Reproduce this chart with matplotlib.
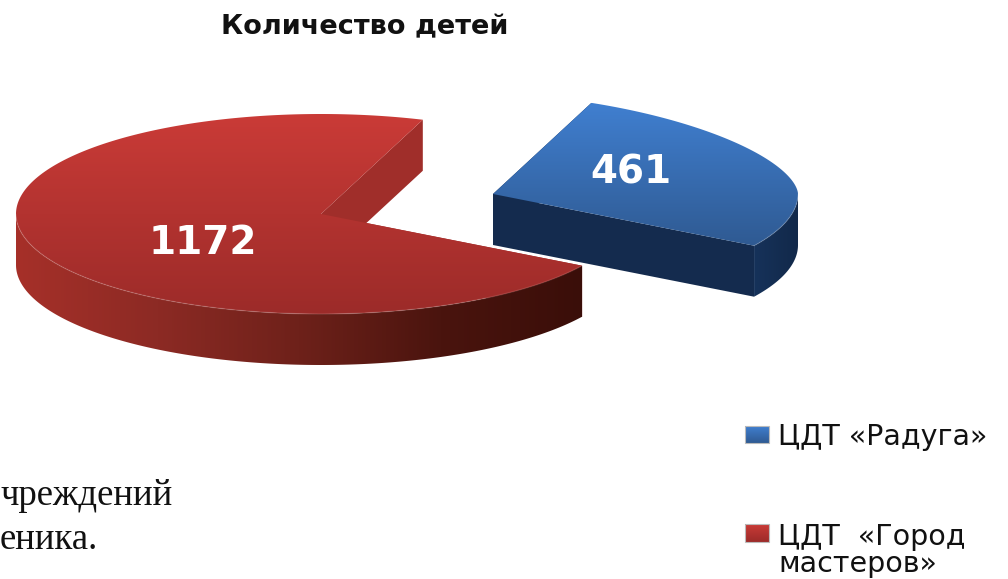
import numpy as np
import matplotlib
matplotlib.use("Agg")
import matplotlib.pyplot as plt
from matplotlib.patches import Polygon
from matplotlib.colors import LinearSegmentedColormap as LSC

# Data
categories = ["ЦДТ «Радуга»", "ЦДТ  «Город\nмастеров»"]
values = [461, 1172]
title = "Количество детей"
value_labels = ["461", "1172"]
side_text = ["чреждений", "еника."]

# Style / layout (pixel coordinates of the reference)
start_angle = 70.5
RX, RY, DEPTH = 305.0, 100.0, 51.0
centers = [(493.0, 194.0), (321.0, 214.0)]
rim_power = [1.7, 2.0]   # flattening of the rim in the back-right quadrant
top_cols = [["#407fd0", "#2f5a92"], ["#ca3b37", "#9c2b29"]]
side_cols = [["#16325a", "#12294a"], ["#a63029", "#8c2a24", "#6e211a", "#4a140e", "#3a0e09"]]
cut_cols = ["#142b4e", "#a02e2a"]
label_pos = [(631, 173), (203, 243)]

fig = plt.figure(figsize=(10.08, 5.79), dpi=100)
ax = fig.add_axes([0, 0, 1, 1])
ax.set_xlim(0, 1008)
ax.set_ylim(579, 0)
ax.axis("off")


def pt(c, t, dz=0.0, p=2.0):
    t = np.radians(t)
    ct, st = np.cos(t), np.sin(t)
    f = np.ones_like(t)
    back_right = (ct > 0) & (st > 0)
    f[back_right] = (ct[back_right] ** p + st[back_right] ** p) ** (-1.0 / p)
    return np.column_stack([c[0] + RX * f * ct, c[1] - RY * f * st + dz])


def fill(poly_xy, cols, vertical, zorder):
    poly = Polygon(poly_xy, closed=True, fc="none", ec="none", transform=ax.transData)
    ax.add_patch(poly)
    x0, y0 = poly_xy.min(axis=0)
    x1, y1 = poly_xy.max(axis=0)
    cmap = LSC.from_list("g", cols)
    g = np.linspace(0, 1, 256)
    arr = g[:, None] if vertical else g[None, :]
    im = ax.imshow(arr, cmap=cmap, extent=(x0, x1, y1, y0), origin="upper",
                   aspect="auto", zorder=zorder, interpolation="bilinear")
    im.set_clip_path(poly)


angles = np.array(values) / sum(values) * 360.0
t0 = start_angle
for i, (c, a) in enumerate(zip(centers, angles)):
    t1 = t0 - a
    ts = np.linspace(t0, t1, 500)
    p = rim_power[i]
    rim = pt(c, ts, p=p)
    # cut faces
    for te in (t0, t1):
        e = pt(c, np.array([te]), p=p)[0]
        face = np.array([c, e, e + [0, DEPTH], [c[0], c[1] + DEPTH]])
        ax.add_patch(Polygon(face, closed=True, fc=cut_cols[i], ec="none", zorder=2))
    # outer wall: visible on the front half of the ellipse only
    vis = ts[(np.sin(np.radians(ts)) <= 0)]
    wall = np.vstack([pt(c, vis), pt(c, vis[::-1], DEPTH)])
    fill(wall, side_cols[i], False, 3)
    # top surface
    top = np.vstack([[c], rim])
    fill(top, top_cols[i], True, 4)
    lit = pt(c, vis)
    ax.plot(lit[:, 0], lit[:, 1], color="white", alpha=0.12, lw=1.0, zorder=5)
    t0 = t1

for lab, (x, y) in zip(value_labels, label_pos):
    ax.text(x, y, lab, color="white", fontsize=28, fontweight="bold",
            ha="center", va="center", family="DejaVu Sans", zorder=6)

ax.text(365, 27, title, fontsize=19.5, fontweight="bold", ha="center", va="center",
        family="DejaVu Sans", color="#111111")

# Legend
leg_y = [(426, 443), (524, 542)]
leg_base = [445, 545]
for i, cat in enumerate(categories):
    y0, y1 = leg_y[i]
    sw = np.array([[745, y0], [769, y0], [769, y1], [745, y1]], float)
    fill(sw, [top_cols[i][0], top_cols[i][1]], True, 4)
    ax.add_patch(Polygon(sw, closed=True, fc="none", ec="#bbbbbb", lw=0.8, zorder=5))
    lines = cat.split("\n")
    for j, ln in enumerate(lines):
        ax.text(778, leg_base[i] + j * 26.5, ln, fontsize=20.5, ha="left", va="baseline",
                family="DejaVu Sans", color="#111111")

# Leftover slide text at the left edge
for ln, xr, yb in zip(side_text, (173, 98), (505, 549)):
    ax.text(xr, yb, ln, fontsize=26.5, ha="right", va="baseline",
            family="Liberation Serif", color="#111111")

ax.set_xlim(0, 1008)
ax.set_ylim(579, 0)
fig.savefig("out.png", dpi=100)
